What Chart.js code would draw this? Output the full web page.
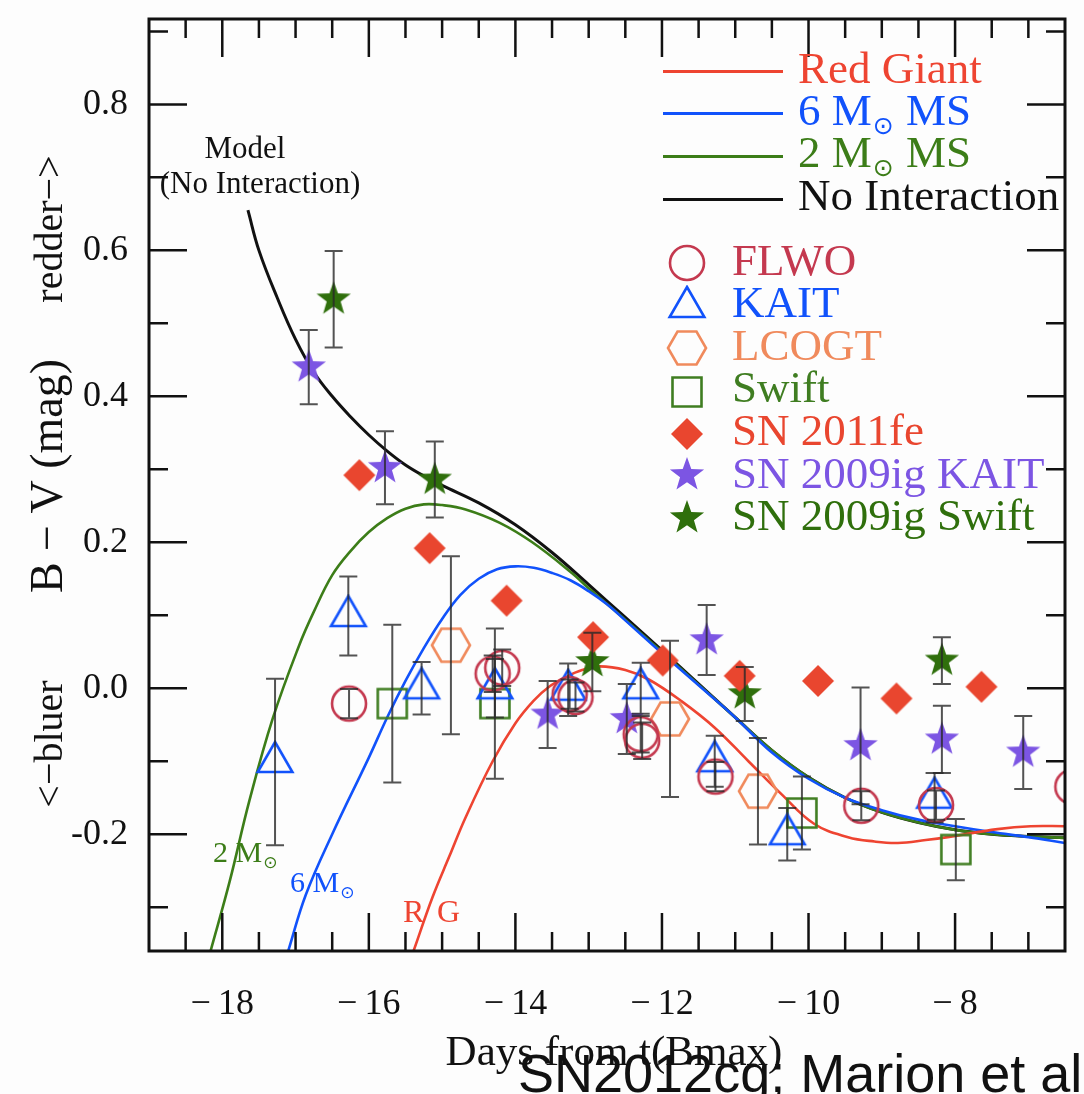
<!DOCTYPE html>
<html>
<head>
<meta charset="utf-8">
<script src="https://cdn.jsdelivr.net/npm/chart.js@4.4.1/dist/chart.umd.min.js"></script>
<style>
  html, body { margin: 0; padding: 0; background: #fdfdfd; }
  #wrap { width: 1084px; height: 1094px; }
</style>
</head>
<body>
<div id="wrap"><canvas id="myChart" width="1084" height="1094"></canvas></div>
<script>
(function () {

    // ---- model curves (days from B max, B-V) ----
    const RG_DAYS = [-15.39, -15.13, -14.9, -14.68, -14.31, -14.0, -13.75, -13.54, -13.3, -13.09, -12.85, -12.5, -12.18, -11.73, -11.28, -10.82, -10.37, -9.92, -9.46, -9.1, -8.78, -8.4, -8.1, -7.42, -6.97, -6.5];
    const RG_BV = [-0.36, -0.286, -0.23, -0.177, -0.10, -0.048, -0.017, 0.002, 0.016, 0.025, 0.030, 0.025, 0.012, -0.018, -0.054, -0.10, -0.145, -0.186, -0.204, -0.21, -0.212, -0.208, -0.204, -0.193, -0.189, -0.189];

    const MS6_DAYS = [-17.1, -16.86, -16.5, -16.0, -15.75, -15.5, -15.25, -15.0, -14.75, -14.5, -14.25, -14.0, -13.75, -13.5, -13.25, -13.0, -12.75, -12.5, -12.0, -11.5, -11.0, -10.5, -10.0, -9.5, -9.0, -8.5, -8.0, -7.5, -7.0, -6.5];
    const MS6_BV = [-0.36, -0.283, -0.20, -0.095, -0.04, 0.01, 0.055, 0.095, 0.128, 0.150, 0.163, 0.167, 0.165, 0.158, 0.148, 0.133, 0.115, 0.093, 0.048, 0.004, -0.040, -0.088, -0.124, -0.150, -0.167, -0.180, -0.189, -0.197, -0.204, -0.212];

    const MS2_DAYS = [-18.16, -17.9, -17.63, -17.31, -16.95, -16.75, -16.5, -16.25, -16.0, -15.75, -15.5, -15.25, -15.0, -14.68, -14.22, -13.77, -13.23, -13.0, -12.5, -12.0, -11.5, -11.0, -10.5, -10.0, -9.5, -9.0, -8.5, -8.0, -7.5, -7.0, -6.5];
    const MS2_BV = [-0.36, -0.265, -0.154, -0.041, 0.059, 0.105, 0.155, 0.188, 0.214, 0.233, 0.246, 0.252, 0.251, 0.245, 0.227, 0.20, 0.158, 0.137, 0.094, 0.050, 0.005, -0.040, -0.085, -0.122, -0.150, -0.170, -0.184, -0.194, -0.200, -0.203, -0.205];

    const NOINT_DAYS = [-17.65, -17.5, -17.25, -17.0, -16.75, -16.5, -16.25, -16.0, -15.75, -15.5, -15.25, -15.0, -14.5, -14.0, -13.5, -13.0, -12.5, -12.0, -11.5, -11.0, -10.5, -10.0, -9.5, -9.0, -8.5, -8.0, -7.5, -7.0, -6.5];
    const NOINT_BV = [0.655, 0.60, 0.535, 0.478, 0.433, 0.40, 0.372, 0.347, 0.325, 0.306, 0.291, 0.278, 0.254, 0.224, 0.186, 0.142, 0.097, 0.052, 0.006, -0.040, -0.085, -0.122, -0.150, -0.170, -0.184, -0.194, -0.200, -0.203, -0.205];

    // ---- SN 2012cg photometry ----
    const FLWO_DAYS = [-16.27, -14.31, -14.18, -13.26, -13.18, -12.29, -12.27, -11.27, -9.28, -8.26, -6.4];
    const FLWO_BV = [-0.021, 0.020, 0.028, -0.008, -0.012, -0.063, -0.072, -0.121, -0.161, -0.160, -0.135];
    const FLWO_ERR = [0.02, 0.025, 0.025, 0.02, 0.02, 0.025, 0.025, 0.02, 0.02, 0.02, 0.02];

    const KAIT_DAYS = [-17.28, -16.28, -15.28, -14.28, -13.28, -12.29, -11.28, -10.29, -8.28];
    const KAIT_BV = [-0.101, 0.099, 0.0, 0.0, -0.002, 0.0, -0.10, -0.200, -0.150];
    const KAIT_ERR = [0.114, 0.054, 0.036, 0.04, 0.036, 0.035, 0.035, 0.036, 0.034];

    const LCOGT_DAYS = [-14.88, -11.89, -10.69];
    const LCOGT_BV = [0.059, -0.042, -0.141];
    const LCOGT_ERR = [0.122, 0.107, 0.073];

    const SWIFT_DAYS = [-15.68, -14.28, -10.09, -7.99];
    const SWIFT_BV = [-0.021, -0.021, -0.171, -0.221];
    const SWIFT_ERR = [0.108, 0.103, 0.05, 0.042];

    // ---- comparison supernovae ----
    const FE_DAYS = [-16.13, -15.17, -14.12, -12.94, -11.99, -10.94, -9.87, -8.80, -7.64];
    const FE_BV = [0.292, 0.192, 0.120, 0.070, 0.038, 0.017, 0.010, -0.014, 0.002];

    const IGK_DAYS = [-16.82, -15.78, -13.56, -12.48, -11.39, -9.29, -8.18, -7.07];
    const IGK_BV = [0.44, 0.302, -0.036, -0.042, 0.066, -0.079, -0.070, -0.088];
    const IGK_ERR = [0.051, 0.05, 0.046, 0.048, 0.048, 0.08, 0.046, 0.05];

    const IGS_DAYS = [-16.48, -15.10, -12.95, -10.87, -8.18];
    const IGS_BV = [0.533, 0.286, 0.036, -0.008, 0.038];
    const IGS_ERR = [0.066, 0.052, 0.04, 0.037, 0.032];

    // ---- axes ----
    const X_TICKS = [-18, -16, -14, -12, -10, -8];
    const X_MINOR = [-18.5, -17.5, -17, -16.5, -15.5, -15, -14.5, -13.5, -13, -12.5, -11.5, -11, -10.5, -9.5, -9, -8.5, -7.5, -7];
    const Y_TICKS = [-0.2, 0.0, 0.2, 0.4, 0.6, 0.8];
    const Y_MINOR = [-0.3, -0.1, 0.1, 0.3, 0.5, 0.7, 0.9];

    const SERIF = '"Liberation Serif", "DejaVu Serif", serif';

    const C_RED = '#ee4431';
    const C_BLUE = '#1152fb';
    const C_GREEN = '#3c7d18';
    const C_FLWO = '#c4394f';
    const C_LCOGT = '#f08a5c';
    const C_SWIFT = '#3f7d21';
    const C_FE = '#e9462f';
    const C_IGK = '#7c55e3';
    const C_IGS = '#2f6f0c';


    let pts = function (xs, ys) {
        return xs.map((x, i) => ({ x: x, y: ys[i] }));
    };

    // small offscreen canvases used as point styles
    let makeMarker = function (kind, color) {
        const s = 44;
        const c = document.createElement('canvas');
        c.width = s;
        c.height = s;
        const g = c.getContext('2d');
        g.translate(s / 2, s / 2);
        g.strokeStyle = color;
        g.fillStyle = color;
        g.lineWidth = 2.6;
        g.beginPath();
        if (kind === 'circle') {
            g.arc(0, 0, 17, 0, Math.PI * 2);
        } else if (kind === 'triangle') {
            for (let i = 0; i < 3; i++) {
                const a = -Math.PI / 2 + i * 2 * Math.PI / 3;
                g.lineTo(20 * Math.cos(a), 20 * Math.sin(a));
            }
            g.closePath();
        } else if (kind === 'hexagon') {
            for (let i = 0; i < 6; i++) {
                const a = i * Math.PI / 3;
                g.lineTo(19 * Math.cos(a), 19 * Math.sin(a));
            }
            g.closePath();
        } else if (kind === 'square') {
            g.rect(-14.5, -14.5, 29, 29);
        } else if (kind === 'diamond') {
            g.moveTo(0, -16);
            g.lineTo(16, 0);
            g.lineTo(0, 16);
            g.lineTo(-16, 0);
            g.closePath();
        } else if (kind === 'star') {
            for (let i = 0; i < 10; i++) {
                const r = i % 2 ? 7.3 : 18;
                const a = -Math.PI / 2 + i * Math.PI / 5;
                g.lineTo(r * Math.cos(a), r * Math.sin(a));
            }
            g.closePath();
        }
        if (kind === 'diamond' || kind === 'star') {
            g.fill();
        } else {
            g.stroke();
        }
        return c;
    };

    const M_FLWO = makeMarker('circle', C_FLWO);
    const M_KAIT = makeMarker('triangle', C_BLUE);
    const M_LCOGT = makeMarker('hexagon', C_LCOGT);
    const M_SWIFT = makeMarker('square', C_SWIFT);
    const M_FE = makeMarker('diamond', C_FE);
    const M_IGK = makeMarker('star', C_IGK);
    const M_IGS = makeMarker('star', C_IGS);


    let curve = function (label, xs, ys, color, width, order) {
        return {
            label: label,
            data: pts(xs, ys),
            showLine: true,
            borderColor: color,
            borderWidth: width,
            pointRadius: 0,
            tension: 0.4,
            clip: 0,
            order: order
        };
    };

    let points = function (label, xs, ys, errs, style) {
        return {
            label: label,
            data: pts(xs, ys),
            errors: errs,
            pointStyle: style,
            pointRadius: 18,
            showLine: false,
            clip: 0,
            order: 1
        };
    };


    const background = {
        id: 'background',
        beforeDraw(chart) {
            const ctx = chart.ctx;
            ctx.save();
            ctx.fillStyle = '#fdfdfd';
            ctx.fillRect(0, 0, chart.width, chart.height);
            ctx.restore();
        }
    };

    const errorBars = {
        id: 'errorBars',
        afterDatasetsDraw(chart) {
            const ctx = chart.ctx;
            const a = chart.chartArea;
            const xs = chart.scales.x;
            const ys = chart.scales.y;
            ctx.save();
            ctx.beginPath();
            ctx.rect(a.left, a.top, a.right - a.left, a.bottom - a.top);
            ctx.clip();
            ctx.strokeStyle = 'rgba(40,40,40,0.8)';
            ctx.lineWidth = 2;
            chart.data.datasets.forEach(function (ds) {
                if (!ds.errors) return;
                ds.data.forEach(function (p, i) {
                    const e = ds.errors[i];
                    if (!e) return;
                    const px = xs.getPixelForValue(p.x);
                    const top = ys.getPixelForValue(p.y + e);
                    const bot = ys.getPixelForValue(p.y - e);
                    ctx.beginPath();
                    ctx.moveTo(px, top);
                    ctx.lineTo(px, bot);
                    ctx.moveTo(px - 9, top);
                    ctx.lineTo(px + 9, top);
                    ctx.moveTo(px - 9, bot);
                    ctx.lineTo(px + 9, bot);
                    ctx.stroke();
                });
            });
            ctx.restore();
        }
    };

    // box and inward tick marks on all four sides
    const frame = {
        id: 'frame',
        afterDatasetsDraw(chart) {
            const ctx = chart.ctx;
            const a = chart.chartArea;
            const xs = chart.scales.x;
            const ys = chart.scales.y;
            ctx.save();
            ctx.strokeStyle = '#111';
            ctx.lineWidth = 2.5;
            ctx.beginPath();
            let xTick = function (v, len) {
                const px = xs.getPixelForValue(v);
                ctx.moveTo(px, a.bottom);
                ctx.lineTo(px, a.bottom - len);
                ctx.moveTo(px, a.top);
                ctx.lineTo(px, a.top + len);
            };
            let yTick = function (v, len) {
                const py = ys.getPixelForValue(v);
                ctx.moveTo(a.left, py);
                ctx.lineTo(a.left + len, py);
                ctx.moveTo(a.right, py);
                ctx.lineTo(a.right - len, py);
            };
            X_TICKS.forEach(v => xTick(v, 38));
            X_MINOR.forEach(v => xTick(v, 19));
            Y_TICKS.forEach(v => yTick(v, 38));
            Y_MINOR.forEach(v => yTick(v, 19));
            ctx.stroke();
            ctx.lineWidth = 3;
            ctx.strokeRect(a.left, a.top, a.right - a.left, a.bottom - a.top);
            ctx.restore();
        }
    };


    let text = function (ctx, s, x, y, size, color, align, family) {
        ctx.font = size + 'px ' + (family || SERIF);
        ctx.fillStyle = color;
        ctx.textAlign = align || 'left';
        ctx.textBaseline = 'alphabetic';
        ctx.fillText(s, x, y);
        return ctx.measureText(s).width;
    };

    // "<n> M(sun)" with the solar symbol set low
    let solarMass = function (ctx, pre, post, x, y, size, color) {
        let w = text(ctx, pre, x, y, size, color);
        const sub = Math.round(size * 0.55);
        let w2 = text(ctx, '\u2299', x + w + 1, y + size * 0.2, sub, color, 'left', '"DejaVu Sans", sans-serif');
        if (post) {
            text(ctx, post, x + w + w2 + 2, y, size, color);
        }
    };

    const labels = {
        id: 'labels',
        afterDraw(chart) {
            const ctx = chart.ctx;
            ctx.save();

            // labels inside the plot
            text(ctx, 'Model', 245, 158, 31, '#111', 'center');
            text(ctx, '(No Interaction)', 260, 193, 31, '#111', 'center');
            solarMass(ctx, '2 M', '', 213, 862, 30, C_GREEN);
            solarMass(ctx, '6 M', '', 290, 892, 30, C_BLUE);
            text(ctx, 'R', 403, 922, 32, C_RED);
            text(ctx, 'G', 437, 922, 32, C_RED);

            // legend: model lines
            const lines = [
                [C_RED, 71.5], [C_BLUE, 113.5], [C_GREEN, 156.5], ['#111', 199.5]
            ];
            ctx.lineWidth = 3;
            lines.forEach(function (l) {
                ctx.strokeStyle = l[0];
                ctx.beginPath();
                ctx.moveTo(663, l[1]);
                ctx.lineTo(783, l[1]);
                ctx.stroke();
            });
            text(ctx, 'Red Giant', 798, 83, 45, C_RED);
            solarMass(ctx, '6 M', ' MS', 798, 125, 45, C_BLUE);
            solarMass(ctx, '2 M', ' MS', 798, 167, 45, C_GREEN);
            text(ctx, 'No Interaction', 798, 210, 45, '#111');

            // legend: data sets
            const entries = [
                [M_FLWO, 263, 'FLWO', C_FLWO, 275],
                [M_KAIT, 307, 'KAIT', C_BLUE, 317],
                [M_LCOGT, 348, 'LCOGT', C_LCOGT, 360],
                [M_SWIFT, 392, 'Swift', C_SWIFT, 402],
                [M_FE, 434, 'SN 2011fe', C_FE, 445],
                [M_IGK, 475, 'SN 2009ig KAIT', C_IGK, 488],
                [M_IGS, 518, 'SN 2009ig Swift', C_IGS, 530]
            ];
            entries.forEach(function (e) {
                ctx.drawImage(e[0], 687 - e[0].width / 2, e[1] - e[0].height / 2);
                text(ctx, e[2], 732, e[4], 45, e[3]);
            });

            // axis titles
            text(ctx, 'Days from t(Bmax)', 614, 1065, 43, '#111', 'center');

            let vertical = function (s, cy, size) {
                ctx.save();
                ctx.translate(62, cy);
                ctx.rotate(-Math.PI / 2);
                text(ctx, s, 0, 0, size, '#111', 'center');
                ctx.restore();
            };
            vertical('redder\u2212>', 229, 40);
            vertical('B \u2212 V (mag)', 476, 46);
            vertical('<\u2212bluer', 744, 40);

            text(ctx, 'SN2012cg; Marion et al', 518, 1092, 54, '#111', 'left', '"Liberation Sans", Arial, sans-serif');

            ctx.restore();
        }
    };


    let chart = new Chart(document.getElementById('myChart'), {
        type: 'scatter',
        data: {
            datasets: [
                points('FLWO', FLWO_DAYS, FLWO_BV, FLWO_ERR, M_FLWO),
                points('KAIT', KAIT_DAYS, KAIT_BV, KAIT_ERR, M_KAIT),
                points('LCOGT', LCOGT_DAYS, LCOGT_BV, LCOGT_ERR, M_LCOGT),
                points('Swift', SWIFT_DAYS, SWIFT_BV, SWIFT_ERR, M_SWIFT),
                points('SN 2011fe', FE_DAYS, FE_BV, null, M_FE),
                points('SN 2009ig KAIT', IGK_DAYS, IGK_BV, IGK_ERR, M_IGK),
                points('SN 2009ig Swift', IGS_DAYS, IGS_BV, IGS_ERR, M_IGS),
                curve('Red Giant', RG_DAYS, RG_BV, C_RED, 2.6, 2),
                curve('6 M MS', MS6_DAYS, MS6_BV, C_BLUE, 2.6, 3),
                curve('2 M MS', MS2_DAYS, MS2_BV, C_GREEN, 2.6, 4),
                curve('No Interaction', NOINT_DAYS, NOINT_BV, '#111', 3, 5)
            ]
        },
        options: {
            responsive: false,
            animation: false,
            devicePixelRatio: 1,
            layout: {
                padding: { top: 13, right: 16, left: 0, bottom: 0 }
            },
            plugins: {
                legend: { display: false },
                tooltip: { enabled: false }
            },
            scales: {
                x: {
                    type: 'linear',
                    min: -19,
                    max: -6.5,
                    grid: { display: false },
                    border: { display: false },
                    afterBuildTicks: function (s) {
                        s.ticks = X_TICKS.map(v => ({ value: v }));
                    },
                    afterFit: function (s) {
                        s.height = 143;
                        s.paddingLeft = 0;
                        s.paddingRight = 0;
                    },
                    ticks: {
                        autoSkip: false,
                        maxRotation: 0,
                        padding: 24,
                        color: '#111',
                        font: { family: SERIF, size: 36 },
                        callback: function (v) {
                            return '\u2212\u2009' + Math.abs(v);
                        }
                    }
                },
                y: {
                    type: 'linear',
                    min: -0.36,
                    max: 0.917,
                    grid: { display: false },
                    border: { display: false },
                    afterBuildTicks: function (s) {
                        s.ticks = Y_TICKS.map(v => ({ value: v }));
                    },
                    afterFit: function (s) {
                        s.width = 149;
                        s.paddingTop = 0;
                        s.paddingBottom = 0;
                    },
                    ticks: {
                        padding: 13,
                        color: '#111',
                        font: { family: SERIF, size: 36 },
                        callback: function (v) {
                            return v.toFixed(1);
                        }
                    }
                }
            }
        },
        plugins: [background, errorBars, frame, labels]
    });

})();
</script>
</body>
</html>
